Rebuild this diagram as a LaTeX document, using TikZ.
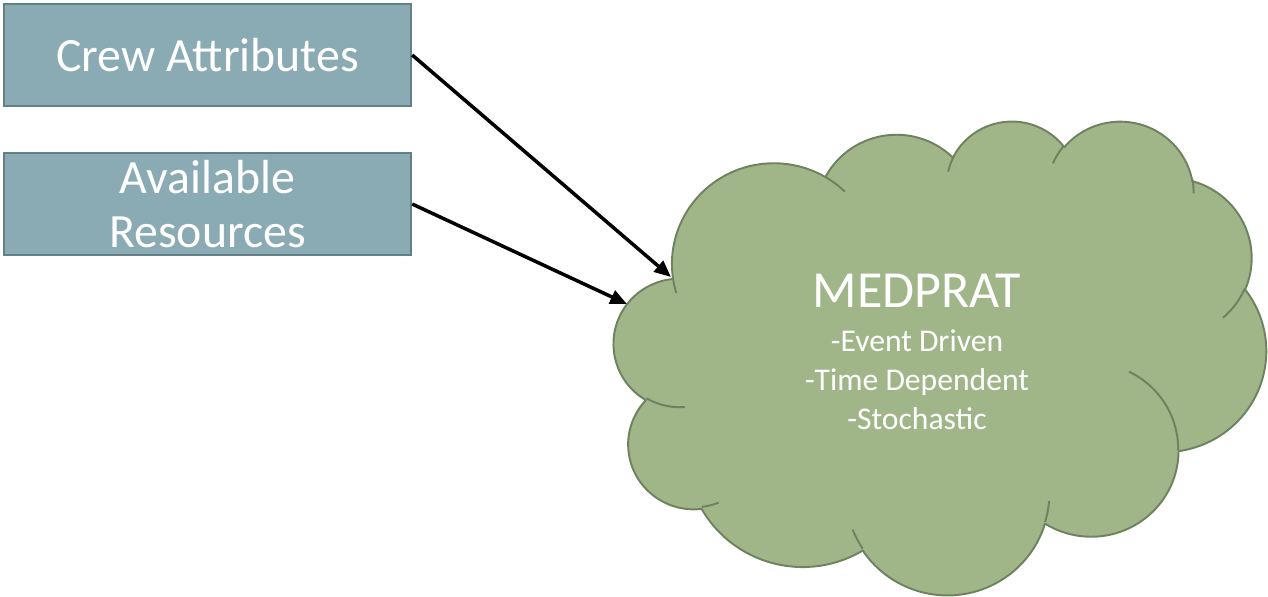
\documentclass[tikz,border=0pt]{standalone}
\usepackage{fontspec}
\setmainfont{Carlito}
\usepackage{tikz}
\usetikzlibrary{arrows.meta, positioning}
\usepackage{xcolor}
\definecolor{boxfill}{RGB}{139,171,180}
\definecolor{boxdraw}{RGB}{99,128,137}
\definecolor{cloudfill}{RGB}{160,182,137}
\definecolor{clouddraw}{RGB}{110,130,95}
\tikzset{declare function={pang(\a,\w,\h)=\a+mod(atan2(\w*sin(\a),\h*cos(\a))-\a+900,360)-180;}}
% arco di ellisse: raggi, angolo iniziale, ampiezza
\newcommand{\arco}[4]{arc[start angle={pang(#3,#1,#2)}, end angle={pang(#3+#4,#1,#2)}, x radius=#1, y radius=#2]}
\def\nuvola{(3900,14370) \arco{6753}{9190}{-190.4875}{123.7805}
    \arco{5333}{7267}{-144.1024}{89.9452}
    \arco{4365}{5945}{-145.8079}{99.7230}
    \arco{4857}{6595}{-130.9861}{117.2417}
    \arco{5333}{7273}{-78.7089}{109.0269}
    \arco{6775}{9220}{-46.2673}{130.2690}
    \arco{5785}{7867}{0.6250}{114.0333}
    \arco{6752}{9215}{22.4516}{115.1726}
    \arco{7720}{10543}{66.2426}{75.7110}
    \arco{4360}{5918}{-274.9421}{146.7356}
    \arco{4345}{5945}{-246.8285}{152.5189} -- cycle}

\begin{document}
\begin{tikzpicture}[x=0.02cm, y=-0.02cm,
    box/.style = {draw=boxdraw, fill=boxfill, line width=1.4pt, minimum width=8.14cm,
        minimum height=2.04cm, inner sep=0pt, text=white, align=center,
        font=\fontsize{27.2}{31}\selectfont},
    freccia/.style = {line width=2pt, -{Triangle[length=9.5pt, width=8pt]}},
    piega/.style = {draw=clouddraw, line width=1.1pt, line join=round}]
    % Area del disegno
    \useasboundingbox (0,0) rectangle (1268,596);
    % Nuvola
    \begin{scope}[shift={(614,120)}, x=0.0085886pt, y=-0.0062438pt]
        \path[piega, fill=cloudfill] \nuvola;
        % Pieghe interne
        \draw[piega] (4693,26177) \arco{4345}{5945}{86.7420}{26.4295};
        \draw[piega] (6928,34899) \arco{4360}{5918}{73.6105}{11.4475};
        \draw[piega] (16478,39090) \arco{6752}{9215}{137.6242}{14.0811};
        \draw[piega] (28827,34751) \arco{6752}{9215}{6.4533}{15.9984};
        \draw[piega] (34129,22954) \arco{5785}{7867}{-70.2924}{70.9174};
        \draw[piega] (41798,15354) \arco{5333}{7273}{30.3180}{27.7515};
        \draw[piega] (38324,5426) \arco{4857}{6595}{-13.7443}{14.8589};
        \draw[piega] (29078,3952) \arco{4857}{6595}{-149.1815}{18.1954};
        \draw[piega] (22141,4720) \arco{4365}{5945}{-163.4943}{17.6864};
        \draw[piega] (14000,5192) \arco{6753}{9190}{-66.7070}{12.3194};
        \draw[piega] (4127,15789) \arco{6753}{9190}{157.6544}{11.8582};
    \end{scope}
    % Testo nella nuvola
    \node[text=white, align=center, font=\fontsize{18}{22}\selectfont] (medprat) at (917,352)
        {{\fontsize{29.6}{34}\selectfont MEDPRAT}\\[3pt]-Event Driven\\-Time Dependent\\-Stochastic};
    % Riquadri a sinistra
    \node[box] (crew) at (207.5,55) {Crew Attributes};
    \node[box] (risorse) at (207.5,204) {Available\\Resources};
    % Frecce verso la nuvola
    \coordinate (puntaA) at (671,277);
    \coordinate (puntaB) at (627,304);
    \draw[freccia] (crew.east) -- (puntaA);
    \draw[freccia] (risorse.east) -- (puntaB);
\end{tikzpicture}
\end{document}
